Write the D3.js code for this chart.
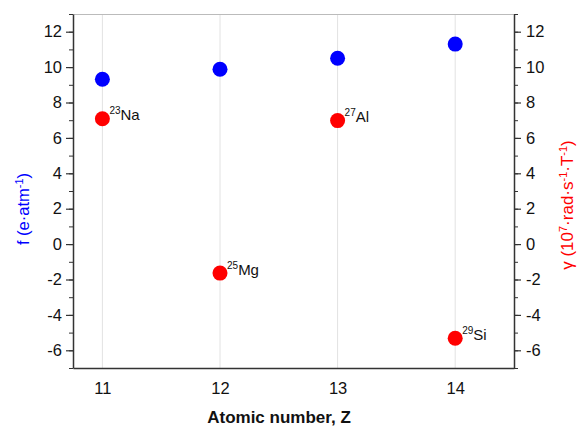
<!DOCTYPE html>
<html>
<head>
<meta charset="utf-8">
<script src="https://cdn.jsdelivr.net/npm/d3@7"></script>
<style>
  html, body { margin: 0; padding: 0; background: #fff; }
  svg { display: block; font-family: "Liberation Sans", Arial, sans-serif; }
</style>
</head>
<body>
<svg id="chart" width="580" height="430"></svg>
<script>
// Atomic number of each nucleus
const atomicNumbers = [11, 12, 13, 14];
// Atomic scattering factor f (e·atm^-1), left axis
const scatteringF = [9.31, 9.88, 10.5, 11.3];
// Gyromagnetic ratio γ (10^7 rad·s^-1·T^-1), right axis
const gyroRatio = [7.08, -1.639, 6.976, -5.319];
// Isotope labels: mass number and element symbol
const massNumbers = ["23", "25", "27", "29"];
const elements = ["Na", "Mg", "Al", "Si"];
// Axis ticks
const xTicks = [11, 12, 13, 14];
const yTicks = [-6, -4, -2, 0, 2, 4, 6, 8, 10, 12];
const yMinorTicks = d3.range(-7, 14, 1);

const svg = d3.select("#chart");
const m = { left: 73, right: 66, top: 14, bottom: 62 };
const W = 580, H = 430;
const x = d3.scaleLinear().domain([10.75, 14.5]).range([m.left, W - m.right]);
const yL = d3.scaleLinear().domain([-7, 13]).range([H - m.bottom, m.top]);
const yR = d3.scaleLinear().domain([-7, 13]).range([H - m.bottom, m.top]);

const axisColor = "#333";
const plain = d => String(d);

// vertical grid lines
svg.append("g").selectAll("line").data(xTicks).join("line")
  .attr("x1", d => x(d)).attr("x2", d => x(d))
  .attr("y1", m.top).attr("y2", H - m.bottom)
  .attr("stroke", "#e2e2e2").attr("stroke-width", 1);

// top frame line
svg.append("line")
  .attr("x1", m.left).attr("x2", W - m.right)
  .attr("y1", m.top + 0.5).attr("y2", m.top + 0.5)
  .attr("stroke", "#bbb");

function styleAxis(g) {
  g.selectAll(".domain").attr("stroke", axisColor).attr("stroke-width", 1.5);
  g.selectAll(".tick line").attr("stroke", axisColor).attr("stroke-width", 1.2);
  g.selectAll(".tick text").attr("fill", "#111").attr("font-size", 16.5)
    .attr("font-family", "'Liberation Sans', Arial, sans-serif");
}

// left axis: minor ticks then major
svg.append("g").attr("transform", `translate(${m.left},0)`)
  .call(d3.axisLeft(yL).tickValues(yMinorTicks).tickSize(4).tickFormat(""))
  .call(g => g.select(".domain").remove())
  .selectAll("line").attr("stroke", axisColor);
svg.append("g").attr("transform", `translate(${m.left},0)`)
  .call(d3.axisLeft(yL).tickValues(yTicks).tickSize(7).tickSizeOuter(0).tickPadding(4).tickFormat(plain))
  .call(styleAxis);

// right axis
svg.append("g").attr("transform", `translate(${W - m.right},0)`)
  .call(d3.axisRight(yR).tickValues(yMinorTicks).tickSize(4).tickFormat(""))
  .call(g => g.select(".domain").remove())
  .selectAll("line").attr("stroke", axisColor);
svg.append("g").attr("transform", `translate(${W - m.right},0)`)
  .call(d3.axisRight(yR).tickValues(yTicks).tickSize(7).tickSizeOuter(0).tickPadding(5).tickFormat(plain))
  .call(styleAxis);

// bottom axis
svg.append("g").attr("transform", `translate(0,${H - m.bottom})`)
  .call(d3.axisBottom(x).tickValues(xTicks).tickSize(0).tickSizeOuter(0).tickPadding(14).tickFormat(plain))
  .call(styleAxis);

// axis titles
svg.append("text")
  .attr("x", 279).attr("y", 423)
  .attr("text-anchor", "middle").attr("font-size", 17).attr("font-weight", "bold")
  .attr("fill", "#111").text("Atomic number, Z");

const leftTitle = svg.append("text")
  .attr("transform", "translate(29,209) rotate(-90)")
  .attr("text-anchor", "middle").attr("font-size", 16.5).attr("fill", "#0000ff");
leftTitle.append("tspan").text("f (e·atm");
leftTitle.append("tspan").attr("dy", -6).attr("font-size", 11).text("-1");
leftTitle.append("tspan").attr("dy", 6).text(")");

const rightTitle = svg.append("text")
  .attr("transform", "translate(573,205) rotate(-90)")
  .attr("text-anchor", "middle").attr("font-size", 17).attr("fill", "#ff0000");
rightTitle.append("tspan").text("γ (10");
rightTitle.append("tspan").attr("dy", -6).attr("font-size", 11).text("7");
rightTitle.append("tspan").attr("dy", 6).text("·rad·s");
rightTitle.append("tspan").attr("dy", -6).attr("font-size", 11).text("-1");
rightTitle.append("tspan").attr("dy", 6).text("·T");
rightTitle.append("tspan").attr("dy", -6).attr("font-size", 11).text("-1");
rightTitle.append("tspan").attr("dy", 6).text(")");

// scattering factor points
svg.append("g").selectAll("circle").data(atomicNumbers).join("circle")
  .attr("cx", d => x(d)).attr("cy", (d, i) => yL(scatteringF[i]))
  .attr("r", 7.5).attr("fill", "#0000ff");

// gyromagnetic ratio points
svg.append("g").selectAll("circle").data(atomicNumbers).join("circle")
  .attr("cx", d => x(d)).attr("cy", (d, i) => yR(gyroRatio[i]))
  .attr("r", 7.5).attr("fill", "#ff0000");

// isotope labels
const lab = svg.append("g").selectAll("text").data(atomicNumbers).join("text")
  .attr("x", d => x(d) + 7).attr("y", (d, i) => yR(gyroRatio[i]) + 1.5)
  .attr("font-size", 15).attr("fill", "#111");
lab.append("tspan").attr("dy", -6).attr("font-size", 10).text((d, i) => massNumbers[i]);
lab.append("tspan").attr("dy", 6).text((d, i) => elements[i]);
</script>
</body>
</html>
